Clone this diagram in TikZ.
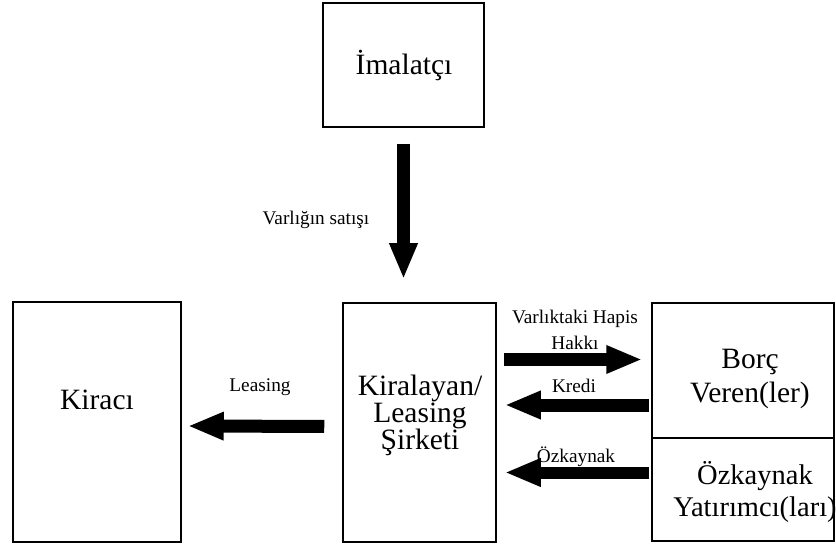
\documentclass[tikz,border=0pt]{standalone}
\usepackage{fontspec}
\setmainfont{Liberation Serif}
\usetikzlibrary{arrows.meta}

\tikzset{
  box/.style={draw, line width=1.5pt, inner sep=0pt},
  bigtext/.style={align=center, inner sep=0pt, font=\fontsize{29.5}{27}\selectfont},
  smalltext/.style={align=center, inner sep=0pt, font=\fontsize{19.3}{26}\selectfont},
  blockarrow/.style={line width=13pt, -{Triangle[width=26pt,length=36pt]}}
}

\begin{document}
\begin{tikzpicture}[x=1pt,y=-1pt]
\useasboundingbox (0,0) rectangle (836,548);
% boxes
\node[box, minimum width=161pt, minimum height=124pt] (imal) at (403.5,65) {};
\node[box, minimum width=168pt, minimum height=240pt] (kiraci) at (97,422) {};
\node[box, minimum width=153pt, minimum height=239pt] (kiral) at (419.5,422.5) {};
\node[box, minimum width=182pt, minimum height=135pt] (borc) at (743,370.5) {};
\node[box, minimum width=182pt, minimum height=103pt] (ozk) at (743,489.5) {};
% box texts
\node[bigtext] (imaltxt) at (404,65) {İmalatçı};
\node[bigtext] (kiracitxt) at (97,400) {Kiracı};
\node[bigtext] (kiraltxt) at (420,415) {Kiralayan/\\Leasing\\Şirketi};
\node[bigtext, font=\fontsize{29.5}{34}\selectfont] (borctxt) at (750,379) {Borç\\Veren(ler)};
\node[bigtext, font=\fontsize{28.5}{32}\selectfont] (ozktxt) at (755,492) {Özkaynak\\Yatırımcı(ları)};
% arrows
\draw[blockarrow, shorten <=16pt, shorten >=23pt] (imal.south) -- (imal.south |- kiral.north);
\draw[blockarrow, shorten <=18pt, shorten >=6pt] ([yshift=-4pt]kiral.west) -- ([yshift=-4pt]kiraci.east);
\draw[blockarrow, shorten <=7pt, shorten >=9pt] ([yshift=11pt]borc.west -| kiral.east) -- ([yshift=11pt]borc.west);
\draw[blockarrow, shorten <=2pt, shorten >=8pt] ([yshift=-34.5pt]borc.west) -- ([yshift=-34.5pt]borc.west -| kiral.east);
\draw[blockarrow, line width=12pt, shorten <=2pt, shorten >=8pt] ([yshift=17pt]ozk.west) -- ([yshift=17pt]ozk.west -| kiral.east);
% arrow labels
\node[smalltext] (satis) at (316,220) {Varlığın satışı};
\node[smalltext] (leasing) at (260,387) {Leasing};
\node[smalltext] (hapis) at (575,330) {Varlıktaki Hapis\\Hakkı};
\node[smalltext] (kredi) at (574,386) {Kredi};
\node[smalltext] (ozklbl) at (576,457) {Özkaynak};
\end{tikzpicture}
\end{document}
